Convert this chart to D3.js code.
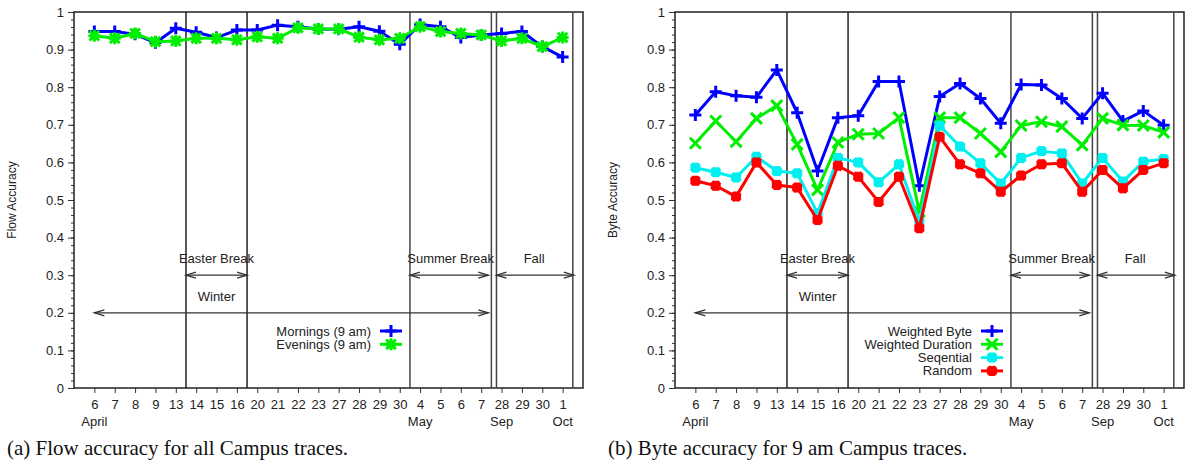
<!DOCTYPE html>
<html>
<head>
<meta charset="utf-8">
<script src="https://cdn.jsdelivr.net/npm/d3@7"></script>
<style>
  body { margin: 0; background: #fff; }
  svg text { font-family: "Liberation Sans", Arial, sans-serif; fill: #222; }
  .caption { font-family: "Liberation Serif", "Times New Roman", serif; font-size: 21px; fill: #111; }
</style>
</head>
<body>
<svg id="chart" width="1189" height="464"></svg>
<script>
// x categories (trace days) and month markers
const days = ["6", "7", "8", "9", "13", "14", "15", "16", "20", "21", "22", "23",
              "27", "28", "29", "30", "4", "5", "6", "7", "28", "29", "30", "1"];
const monthIdx = [0, 16, 20, 23];
const monthNames = ["April", "May", "Sep", "Oct"];
const yTicks = [0, 0.1, 0.2, 0.3, 0.4, 0.5, 0.6, 0.7, 0.8, 0.9, 1];

// (a) flow accuracy
const mornings = [0.948, 0.948, 0.941, 0.918, 0.957, 0.946, 0.932, 0.952, 0.952, 0.965, 0.961, 0.955,
                  0.954, 0.961, 0.949, 0.914, 0.967, 0.961, 0.932, 0.939, 0.943, 0.948, 0.908, 0.880];
const evenings = [0.937, 0.930, 0.943, 0.921, 0.923, 0.930, 0.930, 0.926, 0.934, 0.930, 0.958, 0.955,
                  0.955, 0.933, 0.926, 0.930, 0.961, 0.948, 0.943, 0.939, 0.923, 0.930, 0.908, 0.932];

// (b) byte accuracy
const weightedByte = [0.726, 0.788, 0.777, 0.773, 0.846, 0.732, 0.577, 0.719, 0.724, 0.815, 0.815, 0.538,
                      0.775, 0.810, 0.770, 0.704, 0.807, 0.806, 0.770, 0.717, 0.784, 0.710, 0.737, 0.699];
const weightedDuration = [0.651, 0.710, 0.655, 0.717, 0.751, 0.648, 0.527, 0.653, 0.675, 0.677, 0.719, 0.469,
                          0.719, 0.719, 0.677, 0.628, 0.698, 0.708, 0.695, 0.646, 0.717, 0.699, 0.698, 0.680];
const sequential = [0.586, 0.574, 0.560, 0.615, 0.577, 0.571, 0.465, 0.612, 0.600, 0.547, 0.595, 0.442,
                    0.698, 0.642, 0.598, 0.544, 0.612, 0.630, 0.624, 0.544, 0.612, 0.549, 0.602, 0.609];
const random = [0.551, 0.538, 0.509, 0.600, 0.540, 0.533, 0.447, 0.591, 0.562, 0.495, 0.562, 0.425,
                0.668, 0.595, 0.571, 0.522, 0.565, 0.595, 0.598, 0.522, 0.580, 0.531, 0.580, 0.598];

// period separators and annotation arrows (in category units / accuracy units)
const separators = [4.5, 7.5, 15.5, 19.5, 19.75, 23.5];
const periods = [
  { name: "Easter Break", from: 4.5, to: 7.5, y: 0.3, tx: 6, ty: 0.345 },
  { name: "Summer Break", from: 15.5, to: 19.35, y: 0.3, tx: 17.5, ty: 0.345 },
  { name: "Fall", from: 19.75, to: 23.55, y: 0.3, tx: 21.6, ty: 0.345 },
  { name: "Winter", from: 0, to: 19.35, y: 0.2, tx: 6, ty: 0.245 }
];

const svg = d3.select("#chart");

function markerPath(type, s) {
  if (type === "plus") return `M${-s},0H${s}M0,${-s}V${s}`;
  if (type === "cross") return `M${-s},${-s}L${s},${s}M${-s},${s}L${s},${-s}`;
  // asterisk
  return `M${-s},0H${s}M0,${-s}V${s}M${-s*0.8},${-s*0.8}L${s*0.8},${s*0.8}M${-s*0.8},${s*0.8}L${s*0.8},${-s*0.8}`;
}

function drawPanel(opts) {
  const x = d3.scaleLinear().domain([-1, 24]).range([opts.left, opts.left + 509]);
  const y = d3.scaleLinear().domain([0, 1]).range([388, 12]);
  const g = svg.append("g");

  // minor y ticks
  g.append("g").attr("transform", `translate(${opts.left},0)`)
    .call(d3.axisLeft(y).tickValues(d3.range(0, 51).map(d => d / 50)).tickSize(3).tickFormat(""))
    .call(a => a.select(".domain").remove())
    .call(a => a.selectAll("line").attr("stroke", "#333"));

  // major y ticks
  g.append("g").attr("transform", `translate(${opts.left},0)`)
    .call(d3.axisLeft(y).tickValues(yTicks).tickSize(6).tickPadding(4)
      .tickFormat(d => (d === 0 || d === 1) ? String(d) : d.toFixed(1)))
    .call(a => a.select(".domain").remove())
    .call(a => a.selectAll("line").attr("stroke", "#333"))
    .call(a => a.selectAll("text").attr("font-size", 13).attr("fill", "#222")
      .attr("font-family", "Liberation Sans, Arial, sans-serif"));

  // x ticks
  g.append("g").attr("transform", "translate(0,388)")
    .call(d3.axisBottom(x).tickValues(d3.range(days.length)).tickSize(5).tickPadding(7)
      .tickFormat(i => days[i]))
    .call(a => a.select(".domain").remove())
    .call(a => a.selectAll("line").attr("stroke", "#333"))
    .call(a => a.selectAll("text").attr("font-size", 13).attr("fill", "#222")
      .attr("font-family", "Liberation Sans, Arial, sans-serif"));

  g.selectAll(".month").data(monthIdx).join("text")
    .attr("class", "month")
    .attr("x", d => x(d)).attr("y", 426)
    .attr("text-anchor", "middle").attr("font-size", 13)
    .text((d, i) => monthNames[i]);

  // frame
  g.append("rect")
    .attr("x", x(-1)).attr("y", y(1))
    .attr("width", x(24) - x(-1)).attr("height", y(0) - y(1))
    .attr("fill", "none").attr("stroke", "#222").attr("stroke-width", 1.5);

  // separators
  g.selectAll(".sep").data(separators).join("line")
    .attr("class", "sep")
    .attr("x1", d => x(d)).attr("x2", d => x(d))
    .attr("y1", y(1)).attr("y2", y(0))
    .attr("stroke", (d, i) => i < 2 ? "#222" : "#444").attr("stroke-width", 1.5);

  // annotations
  const ann = g.selectAll(".ann").data(periods).join("g").attr("class", "ann");
  ann.append("line")
    .attr("x1", d => x(d.from)).attr("x2", d => x(d.to))
    .attr("y1", d => y(d.y)).attr("y2", d => y(d.y))
    .attr("stroke", "#333").attr("stroke-width", 1.3);
  ann.append("path")
    .attr("d", d => {
      const a = x(d.from), b = x(d.to), yy = y(d.y);
      return `M${a + 10},${yy - 3}L${a},${yy}L${a + 10},${yy + 3}` +
             `M${b - 10},${yy - 3}L${b},${yy}L${b - 10},${yy + 3}`;
    })
    .attr("fill", "none").attr("stroke", "#333").attr("stroke-width", 1.3);
  ann.append("text")
    .attr("x", d => x(d.tx)).attr("y", d => y(d.ty) + 5)
    .attr("text-anchor", "middle").attr("font-size", 13)
    .text(d => d.name);

  // y label
  svg.append("text")
    .attr("transform", `translate(${opts.left - 58},${y(0.5)}) rotate(-90)`)
    .attr("text-anchor", "middle").attr("font-size", 12)
    .text(opts.yLabel);

  // series
  const line = d3.line().x((d, i) => x(i)).y(d => y(d));
  opts.series.forEach(s => {
    g.append("path").datum(s.values)
      .attr("d", line).attr("fill", "none")
      .attr("stroke", s.color).attr("stroke-width", 3).attr("stroke-linejoin", "round");
    g.selectAll(null).data(s.values).join("path")
      .attr("transform", (d, i) => `translate(${x(i)},${y(d)})`)
      .attr("d", markerPath(s.marker, s.size))
      .attr("stroke", s.color).attr("stroke-width", s.mw).attr("fill", "none");
  });

  // legend
  const leg = g.selectAll(".leg").data(opts.series).join("g")
    .attr("class", "leg")
    .attr("transform", (d, i) => `translate(${opts.left + 297},${331 + i * 13.3})`);
  leg.append("text").attr("x", 0).attr("y", 4.5)
    .attr("text-anchor", "end").attr("font-size", 13).text(d => d.name);
  leg.append("line").attr("x1", 9).attr("x2", 31).attr("y1", 0).attr("y2", 0)
    .attr("stroke", d => d.color).attr("stroke-width", 3);
  leg.append("path").attr("transform", "translate(20,0)")
    .attr("d", d => markerPath(d.marker, d.size))
    .attr("stroke", d => d.color).attr("stroke-width", d => d.mw).attr("fill", "none");

  svg.append("text").attr("class", "caption")
    .attr("x", opts.left - 67).attr("y", 455)
    .text(opts.caption);
}

drawPanel({
  left: 74,
  yLabel: "Flow Accuracy",
  caption: "(a) Flow accuracy for all Campus traces.",
  series: [
    { name: "Mornings (9 am)", values: mornings, color: "#0000ff", marker: "plus", size: 6, mw: 3 },
    { name: "Evenings (9 am)", values: evenings, color: "#00ee00", marker: "asterisk", size: 6, mw: 3 }
  ]
});

drawPanel({
  left: 675,
  yLabel: "Byte Accuracy",
  caption: "(b) Byte accuracy for 9 am Campus traces.",
  series: [
    { name: "Weighted Byte", values: weightedByte, color: "#0000ff", marker: "plus", size: 6, mw: 3 },
    { name: "Weighted Duration", values: weightedDuration, color: "#00ee00", marker: "cross", size: 5.5, mw: 3 },
    { name: "Seqential", values: sequential, color: "#00f0f0", marker: "asterisk", size: 5, mw: 4 },
    { name: "Random", values: random, color: "#ff0000", marker: "asterisk", size: 5, mw: 4 }
  ]
});
</script>
</body>
</html>
